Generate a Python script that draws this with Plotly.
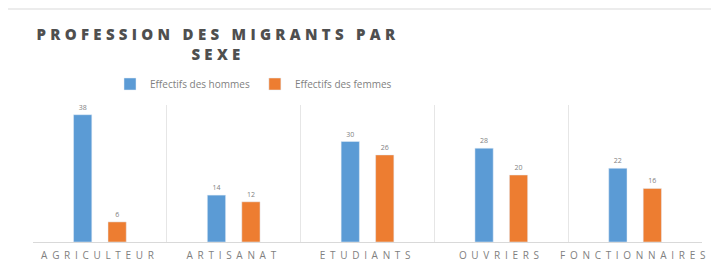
import plotly.graph_objects as go

categories = ["AGRICULTEUR", "ARTISANAT", "ETUDIANTS", "OUVRIERS", "FONCTIONNAIRES"]
hommes = [38, 14, 30, 28, 22]
femmes = [6, 12, 26, 20, 16]
series_names = ["Effectifs des hommes", "Effectifs des femmes"]

# page is rendered with an 8px body margin; figure coords = page coords - 8
W, H = 711, 255
L, R, T, B = 25, 17, 97, 21
PW, PH = W - L - R, H - T - B

tick_text = ['<span style="letter-spacing:4.7px">%s</span>' % c for c in categories]

fig = go.Figure()
fig.add_trace(go.Bar(x=categories, y=hommes, name=series_names[0], marker_color="#5B9BD5",
                     text=hommes, textposition="outside", cliponaxis=False,
                     textfont=dict(size=7, color="#7f7f7f")))
fig.add_trace(go.Bar(x=categories, y=femmes, name=series_names[1], marker_color="#ED7D31",
                     text=femmes, textposition="outside", cliponaxis=False,
                     textfont=dict(size=7, color="#7f7f7f")))

fig.update_layout(
    width=W, height=H,
    margin=dict(l=L, r=R, t=T, b=B, autoexpand=False),
    paper_bgcolor="white", plot_bgcolor="white",
    barmode="group", bargap=0.485, bargroupgap=0.47,
    font=dict(family="Open Sans, sans-serif", color="#595959"),
    title=dict(
        text='<span style="letter-spacing:4.3px">PROFESSION DES MIGRANTS PAR<br>SEXE</span>',
        x=210 / W, xanchor="center", xref="container",
        y=1 - 32 / H, yanchor="top", yref="container",
        font=dict(size=15, color="#4f4f4f", weight=800),
    ),
    legend=dict(orientation="h", x=(102 - L) / PW, xanchor="left",
                y=(H - B - 76) / PH, yanchor="middle",
                font=dict(size=10, color="#7f7f7f"), itemwidth=30, tracegroupgap=0,
                bgcolor="rgba(0,0,0,0)"),
    showlegend=True,
)
fig.update_xaxes(tickmode="array", tickvals=categories, ticktext=tick_text,
                 tickangle=0, automargin=False, ticklabelstandoff=4,
                 tickson="boundaries", showgrid=True, gridcolor="#e6e6e6", gridwidth=1,
                 showline=True, linecolor="#d9d9d9", ticks="",
                 tickfont=dict(size=10, color="#7f7f7f"))
fig.update_yaxes(range=[0, 40.9], showgrid=False, showticklabels=False, zeroline=False,
                 automargin=False)

fig.add_shape(type="rect", xref="paper", yref="paper",
              x0=(-3 - L) / PW, x1=(730 - L) / PW,
              y0=(H - B - 275) / PH, y1=(H - B - 1) / PH,
              line=dict(color="#d9d9d9", width=1), layer="below")

fig.write_html("out.html")
